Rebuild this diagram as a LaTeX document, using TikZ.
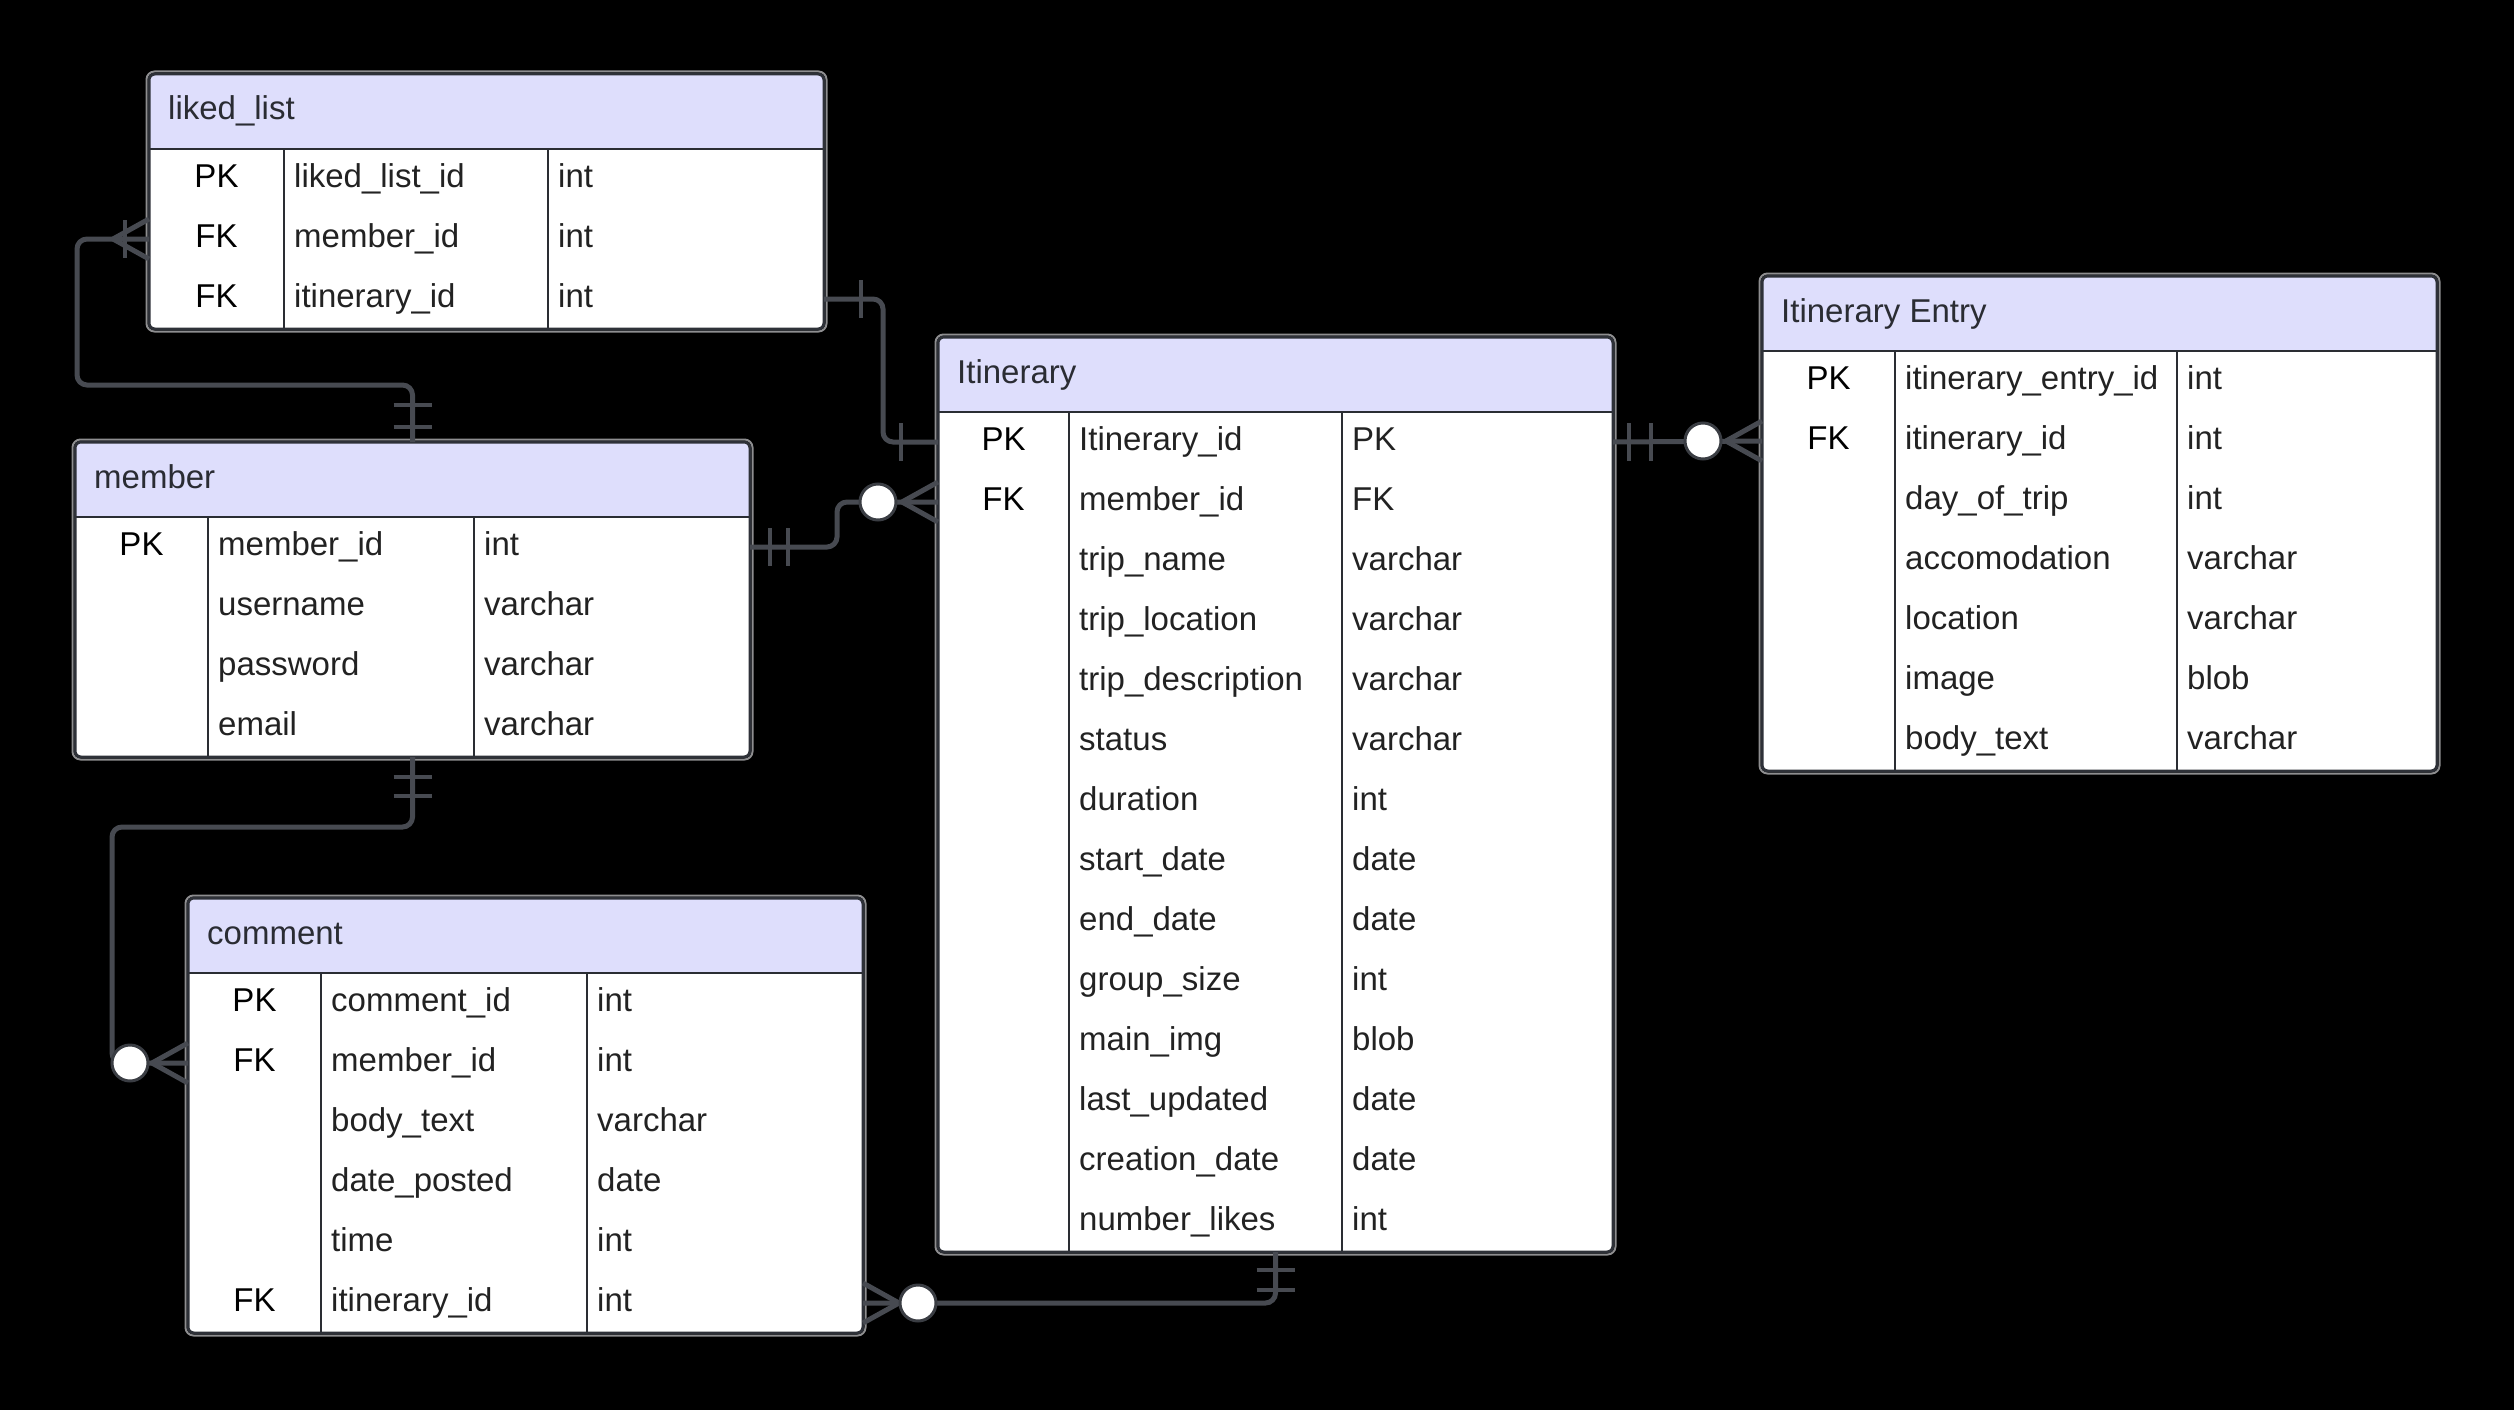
\documentclass[tikz,border=0pt]{standalone}
\usepackage{fontspec}
\setmainfont{Liberation Sans}
\usetikzlibrary{calc}

\definecolor{headfill}{HTML}{DEDEFC}
\definecolor{bordercol}{HTML}{2E3138}
\definecolor{ringcol}{HTML}{8E8E90}
\definecolor{gridcol}{HTML}{2A2D33}
\definecolor{conncol}{HTML}{474A51}
\definecolor{circcol}{HTML}{3A3D43}
\definecolor{titlecol}{HTML}{2A2C33}
\definecolor{celltext}{HTML}{222222}

\tikzset{
  x=1pt, y=-1pt,
  every node/.style={font=\fontsize{33}{40}\selectfont},
  tablebody/.style={fill=white, rounded corners=6pt, minimum width=675pt,
    inner sep=0pt, outer sep=0pt, anchor=north west},
  gridline/.style={draw=gridcol, line width=2.5pt},
  border/.style={draw=bordercol, line width=3pt},
  outerring/.style={draw=ringcol, line width=2pt},
  titletext/.style={inner sep=0pt, anchor=west, text=titlecol, text height=24pt, text depth=7pt},
  cell/.style={inner sep=0pt, anchor=west, text=celltext, text height=24pt, text depth=7pt},
  keytext/.style={inner sep=0pt, anchor=center, text=black, text height=24pt, text depth=7pt},
  conn/.style={draw=conncol, line width=5pt, rounded corners=10pt},
  tick/.style={draw=conncol, line width=4pt},
  zcircle/.style={circle, fill=white, draw=circcol, line width=3pt, minimum size=36pt, inner sep=0pt},
}

% entity table: name, left, top, key divider, type divider, title, rows, row count
\newcommand\erdtable[8]{%
  \node[tablebody, minimum height={75+60*#8}] (#1) at (#2,#3) {};
  \begin{scope}
    \clip[rounded corners=6pt] (#1.north west) rectangle (#1.south east);
    \fill[headfill] (#1.north west) rectangle ([yshift=-75pt]#1.north east);
  \end{scope}
  \draw[gridline] ([yshift=-75pt]#1.north west) -- ([yshift=-75pt]#1.north east);
  \draw[gridline] ([xshift=#4pt,yshift=-75pt]#1.north west) -- ([xshift=#4pt]#1.south west);
  \draw[gridline] ([xshift=#5pt,yshift=-75pt]#1.north west) -- ([xshift=#5pt]#1.south west);
  \node[titletext] (#1-title) at (#2+19,#3+37.5) {#6};
  \foreach \k/\f/\t [count=\i] in {#7} {
    \pgfmathsetmacro\ry{#3+75+(\i-0.5)*60}
    \coordinate (#1-w\i) at (#2,\ry);
    \coordinate (#1-e\i) at (#2+675,\ry);
    \node[keytext] (#1-k\i) at (#2+#4/2,\ry) {\k};
    \node[cell] (#1-f\i) at (#2+#4+10,\ry) {\f};
    \node[cell] (#1-t\i) at (#2+#5+10,\ry) {\t};
  }
  \draw[outerring, rounded corners=8pt] ([shift={(-2.5,-2.5)}]#1.north west) rectangle ([shift={(2.5,2.5)}]#1.south east);
  \draw[border, rounded corners=6pt] (#1.north west) rectangle (#1.south east);
}

% crow's foot at an entity edge; #2 = +1 when the line leaves to the right, -1 to the left
\newcommand\crowfoot[2]{%
  \draw[conn, rounded corners=0pt] ([xshift={#2*36pt}]#1) -- ([yshift=20pt]#1)
    ([xshift={#2*36pt}]#1) -- ([yshift=-20pt]#1);
}
% short bar across a horizontal line, at an x offset
\newcommand\tickacross[2]{%
  \draw[tick] ([shift={(#2,-19)}]#1) -- ([shift={(#2,19)}]#1);
}
% short bar across a vertical line, at a y offset (positive = down)
\newcommand\tickalong[2]{%
  \draw[tick] ([shift={(-19,#2)}]#1) -- ([shift={(19,#2)}]#1);
}

\begin{document}
\begin{tikzpicture}
\fill[black] (0,0) rectangle (2514,1410);
\useasboundingbox (0,0) rectangle (2514,1410);

\erdtable{liked}{149}{74}{135}{399}{liked\_list}{
  PK/liked\_list\_id/int,
  FK/member\_id/int,
  FK/itinerary\_id/int}{3}

\erdtable{member}{75}{442}{133}{399}{member}{
  PK/member\_id/int,
  /username/varchar,
  /password/varchar,
  /email/varchar}{4}

\erdtable{comment}{188}{898}{133}{399}{comment}{
  PK/comment\_id/int,
  FK/member\_id/int,
  /body\_text/varchar,
  /date\_posted/date,
  /time/int,
  FK/itinerary\_id/int}{6}

\erdtable{itin}{938}{337}{131}{404}{Itinerary}{
  PK/Itinerary\_id/PK,
  FK/member\_id/FK,
  /trip\_name/varchar,
  /trip\_location/varchar,
  /trip\_description/varchar,
  /status/varchar,
  /duration/int,
  /start\_date/date,
  /end\_date/date,
  /group\_size/int,
  /main\_img/blob,
  /last\_updated/date,
  /creation\_date/date,
  /number\_likes/int}{14}

\erdtable{entry}{1762}{276}{133}{415}{Itinerary Entry}{
  PK/itinerary\_entry\_id/int,
  FK/itinerary\_id/int,
  /day\_of\_trip/int,
  /accomodation/varchar,
  /location/varchar,
  /image/blob,
  /body\_text/varchar}{7}

% liked_list.member_id  -- member
\coordinate (lm-bend) at (77,385);
\draw[conn] (liked-w2) -| (lm-bend) -| (member.north);
\crowfoot{liked-w2}{-1}
\tickacross{liked-w2}{-24}
\tickalong{member.north}{-15}
\tickalong{member.north}{-37}

% liked_list.itinerary_id -- Itinerary
\draw[conn] (liked-e3) -| ($(itin-w1)+(-55,0)$) -- (itin-w1);
\tickacross{liked-e3}{37}
\tickacross{itin-w1}{-37}

% member -- Itinerary.member_id
\draw[conn] (member-e1) -| ($(itin-w2)+(-101,0)$) -- (itin-w2);
\tickacross{member-e1}{20}
\tickacross{member-e1}{38}
\crowfoot{itin-w2}{-1}
\node[zcircle] (mi-zero) at ($(itin-w2)+(-60,0)$) {};

% Itinerary -- Itinerary Entry
\draw[conn] (itin-e1) -- (entry-w2);
\tickacross{itin-e1}{16}
\tickacross{itin-e1}{38}
\crowfoot{entry-w2}{-1}
\node[zcircle] (ie-zero) at ($(entry-w2)+(-59,0)$) {};

% member -- comment.member_id
\coordinate (mc-bend) at (112,827);
\draw[conn] (member.south) |- (mc-bend) |- (comment-w2);
\tickalong{member.south}{20}
\tickalong{member.south}{39}
\crowfoot{comment-w2}{-1}
\node[zcircle] (mc-zero) at ($(comment-w2)+(-58,0)$) {};

% comment.itinerary_id -- Itinerary
\draw[conn] (comment-e6) -| (itin.south);
\tickalong{itin.south}{18}
\tickalong{itin.south}{38}
\crowfoot{comment-e6}{1}
\node[zcircle] (ci-zero) at ($(comment-e6)+(55,0)$) {};
\end{tikzpicture}
\end{document}
